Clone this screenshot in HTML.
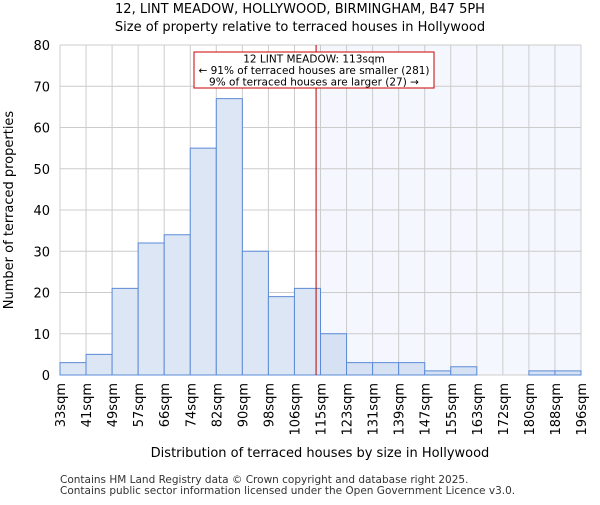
<!DOCTYPE html>
<html><head><meta charset="utf-8"><style>
body{margin:0;background:#fff;font-family:"Liberation Sans","DejaVu Sans",sans-serif;}
svg text{font-family:"DejaVu Sans","Liberation Sans",sans-serif;}
</style></head><body>
<svg id="chart" width="600" height="500" xmlns="http://www.w3.org/2000/svg">
<text x="300" y="13" text-anchor="middle" font-size="13">12, LINT MEADOW, HOLLYWOOD, BIRMINGHAM, B47 5PH</text>
<text x="300" y="31" text-anchor="middle" font-size="13">Size of property relative to terraced houses in Hollywood</text>
<g id="plot"></g>
<text x="320" y="457" text-anchor="middle" font-size="13">Distribution of terraced houses by size in Hollywood</text>
<text transform="translate(13,210) rotate(-90)" text-anchor="middle" font-size="13">Number of terraced properties</text>
<text x="60" y="483" font-size="10.5" fill="#333">Contains HM Land Registry data © Crown copyright and database right 2025.</text>
<text x="60" y="494" font-size="10.5" fill="#333">Contains public sector information licensed under the Open Government Licence v3.0.</text>
</svg>
<script>
const categories=["33sqm","41sqm","49sqm","57sqm","66sqm","74sqm","82sqm","90sqm","98sqm","106sqm","115sqm","123sqm","131sqm","139sqm","147sqm","155sqm","163sqm","172sqm","180sqm","188sqm","196sqm"];
const counts=[3,5,21,32,34,55,67,30,19,21,10,3,3,3,1,2,0,0,1,1];
const yTicks=[0,10,20,30,40,50,60,70,80];
const markerBin=9.83;
const annotation=["12 LINT MEADOW: 113sqm","← 91% of terraced houses are smaller (281)","9% of terraced houses are larger (27) →"];
const NS="http://www.w3.org/2000/svg";
const L=60,R=581,T=45,B=375,yMax=80;
const nb=counts.length;
const xs=i=>L+(R-L)*i/nb;
const ys=v=>B-(B-T)*v/yMax;
const g=document.getElementById('plot');
function mk(t,a){const e=document.createElementNS(NS,t);for(const k in a)e.setAttribute(k,a[k]);g.appendChild(e);return e;}
let e;
e=mk('rect',{x:L,y:T,width:R-L,height:B-T,fill:'#fff'});


const mx=xs(markerBin);
e=mk('rect',{x:mx,y:T,width:R-mx,height:B-T,fill:'#f4f7fd'});


for(let i=0;i<=nb;i++){e=mk('line',{x1:xs(i),x2:xs(i),y1:T,y2:B,stroke:'#ccc','stroke-width':1});

}
yTicks.forEach(v=>{e=mk('line',{x1:L,x2:R,y1:ys(v),y2:ys(v),stroke:'#ccc','stroke-width':1});


e=mk('text',{x:L-10,y:ys(v)+5,'text-anchor':'end','font-size':13});e.textContent=v;

});
counts.forEach((c,i)=>{if(c<=0)return;e=mk('rect',{x:xs(i),y:ys(c),width:xs(i+1)-xs(i),height:B-ys(c),fill:i<10?'#dce6f5':'#d6e1f3',stroke:'#5b8bd6','stroke-width':1});

});
categories.forEach((c,i)=>{e=mk('text',{transform:`translate(${xs(i)+5},383) rotate(-90)`,'text-anchor':'end','font-size':13});e.textContent=c;

});
e=mk('line',{x1:mx,x2:mx,y1:T,y2:B,stroke:'#b00','stroke-width':1});


e=mk('rect',{x:194,y:52,width:240,height:36,fill:'#fff',stroke:'#c00','stroke-width':1});


annotation.forEach((s,i)=>{e=mk('text',{x:314,y:62.5+i*11.5,'text-anchor':'middle','font-size':10.5});e.textContent=s;

});
</script>
</body></html>
